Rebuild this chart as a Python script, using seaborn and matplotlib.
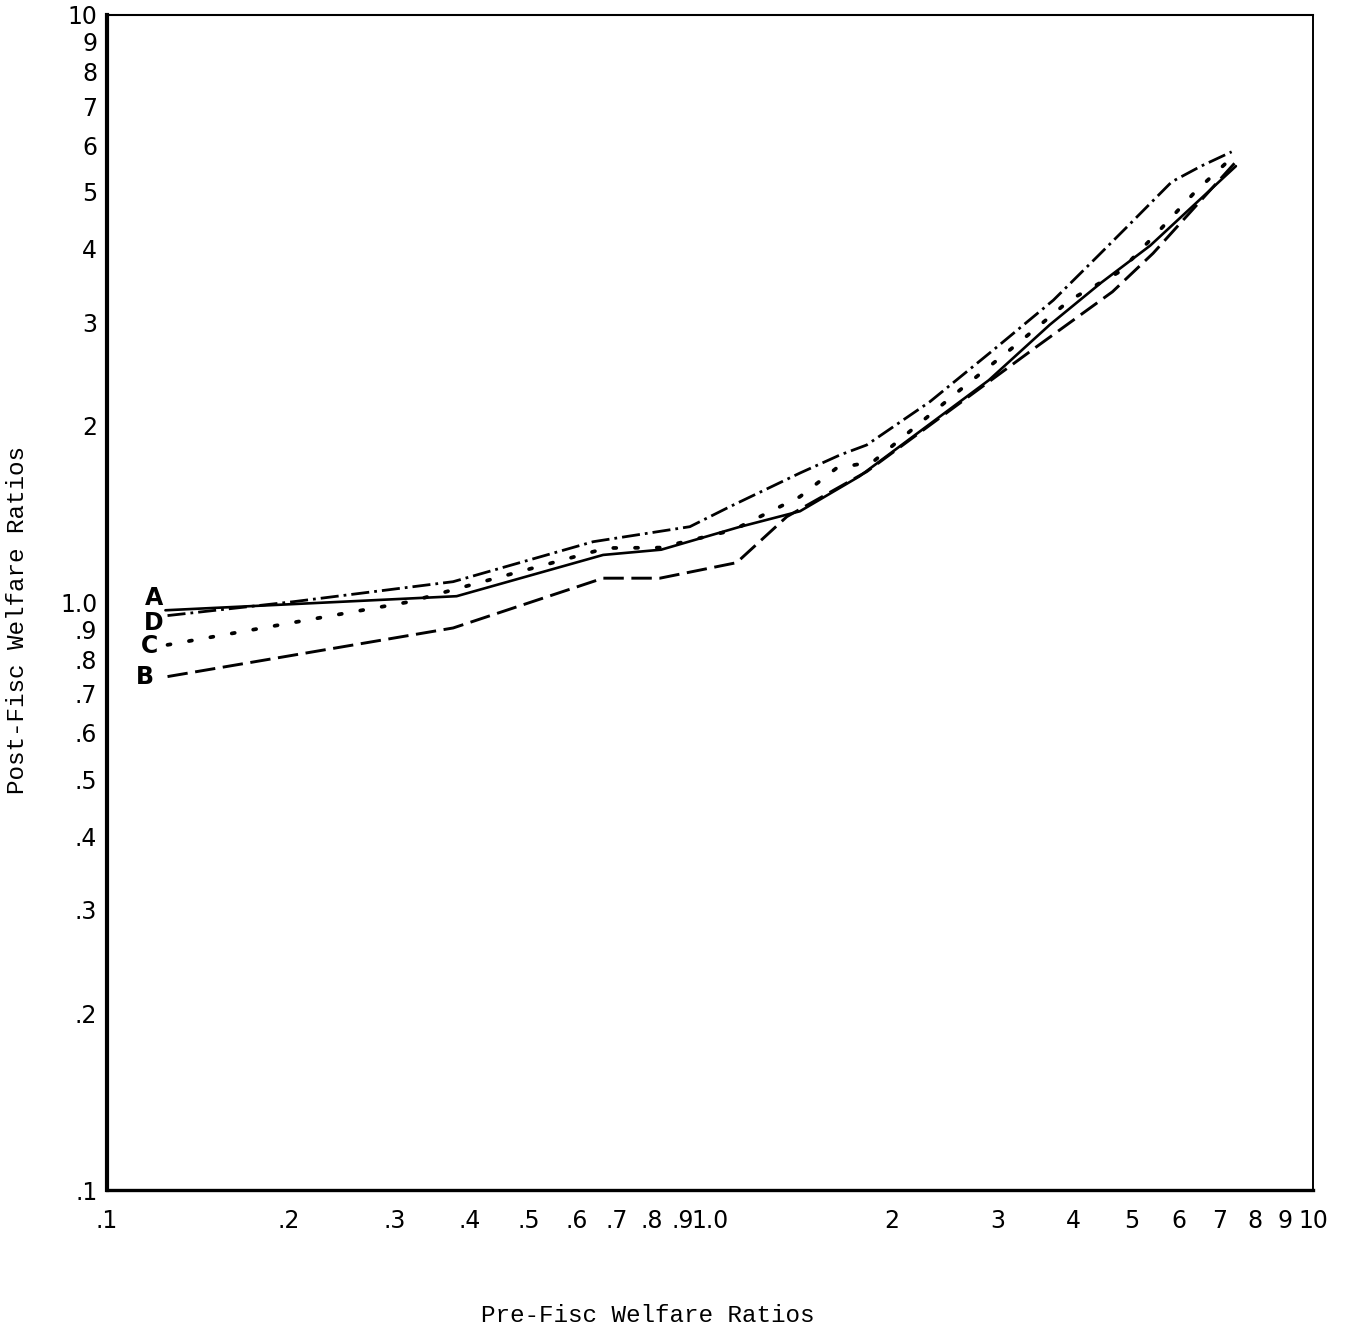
import matplotlib
matplotlib.use("Agg")
import matplotlib.pyplot as plt
import seaborn as sns
import pandas as pd
from matplotlib.ticker import FixedLocator, FixedFormatter, NullLocator

# ---- data ----
a_x = [0.125, 0.38, 0.665, 0.83, 1.12, 1.41, 1.77, 2.9, 3.66, 4.45, 5.37, 7.45]
a_y = [0.97, 1.025, 1.205, 1.23, 1.345, 1.43, 1.64, 2.39, 2.97, 3.5, 4.05, 5.53]

b_x = [0.126, 0.375, 0.665, 0.826, 1.107, 1.341, 1.819, 2.598, 3.48, 4.65, 5.43, 7.42]
b_y = [0.748, 0.905, 1.10, 1.10, 1.169, 1.40, 1.67, 2.186, 2.725, 3.38, 3.93, 5.6]

c_x = [0.126, 0.318, 0.385, 0.674, 0.826, 1.092, 1.41, 1.622, 1.864, 2.598, 3.226, 3.95, 4.786, 5.576, 6.375, 7.42]
c_y = [0.847, 1.003, 1.059, 1.238, 1.24, 1.328, 1.514, 1.694, 1.736, 2.30, 2.75, 3.27, 3.66, 4.31, 5.0, 5.78]

d_x = [0.126, 0.2035, 0.375, 0.64, 0.926, 1.079, 1.41, 1.643, 1.819, 2.316, 2.95, 3.71, 4.40, 4.934, 5.83, 6.52, 7.33]
d_y = [0.95, 1.003, 1.085, 1.269, 1.346, 1.456, 1.661, 1.783, 1.854, 2.197, 2.69, 3.27, 3.89, 4.375, 5.20, 5.53, 5.85]

series_names = ["A", "B", "C", "D"]
label_pos = {"A": (0.1195, 1.018), "D": (0.1195, 0.923), "C": (0.1175, 0.843), "B": (0.1155, 0.747)}

tick_values = [0.1, 0.2, 0.3, 0.4, 0.5, 0.6, 0.7, 0.8, 0.9, 1.0, 2, 3, 4, 5, 6, 7, 8, 9, 10]
x_tick_labels = [".1", ".2", ".3", ".4", ".5", ".6", ".7", ".8", ".9", "1.0",
                 "2", "3", "4", "5", "6", "7", "8", "9", "10"]
y_tick_labels = [".1", ".2", ".3", ".4", ".5", ".6", ".7", ".8", ".9", "1.0",
                 "2", "3", "4", "5", "6", "7", "8", "9", "10"]

x_label = "Pre-Fisc Welfare Ratios"
y_label = "Post-Fisc Welfare Ratios"

# ---- build a long table ----
frames = []
for name, xs, ys in [("A", a_x, a_y), ("B", b_x, b_y), ("C", c_x, c_y), ("D", d_x, d_y)]:
    frames.append(pd.DataFrame({"pre": xs, "post": ys, "series": name}))
df = pd.concat(frames, ignore_index=True)

sns.set_style("white")
plt.rcParams["font.family"] = ["DejaVu Sans"]

fig = plt.figure(figsize=(13.47, 13.30), dpi=100)
ax = fig.add_axes([107 / 1347, 140 / 1330, (1313 - 107) / 1347, (1190 - 15) / 1330])

styles = {
    "A": dict(linestyle="-", linewidth=1.9),
    "B": dict(linestyle=(0, (7, 2.6)), linewidth=2.1),
    "C": dict(linestyle=(0, (0.8, 5.0)), linewidth=2.7, dash_capstyle="round"),
    "D": dict(linestyle=(0, (6.5, 1.8, 1.0, 1.8)), linewidth=2.0),
}

for name in series_names:
    sub = df[df["series"] == name]
    sns.lineplot(data=sub, x="pre", y="post", ax=ax, color="black",
                 sort=False, estimator=None, legend=False)
    line = ax.lines[-1]
    st = styles[name]
    line.set_linestyle(st["linestyle"])
    line.set_linewidth(st["linewidth"])
    if "dash_capstyle" in st:
        line.set_dash_capstyle(st["dash_capstyle"])

ax.set_xscale("log")
ax.set_yscale("log")
ax.set_xlim(0.1, 10)
ax.set_ylim(0.1, 10)

ax.xaxis.set_major_locator(FixedLocator(tick_values))
ax.xaxis.set_major_formatter(FixedFormatter(x_tick_labels))
ax.yaxis.set_major_locator(FixedLocator(tick_values))
ax.yaxis.set_major_formatter(FixedFormatter(y_tick_labels))
ax.xaxis.set_minor_locator(NullLocator())
ax.yaxis.set_minor_locator(NullLocator())

ax.tick_params(axis="both", which="major", direction="in", length=5, width=1.5,
               color="black", labelsize=17, labelcolor="black")
ax.tick_params(axis="x", pad=14)
ax.tick_params(axis="y", pad=7)

for side, lw in [("left", 3.0), ("bottom", 2.4), ("top", 1.5), ("right", 1.4)]:
    ax.spines[side].set_visible(True)
    ax.spines[side].set_color("black")
    ax.spines[side].set_linewidth(lw)

ax.set_xlabel("")
ax.set_ylabel("")

for name in series_names:
    lx, ly = label_pos[name]
    ax.text(lx, ly, name, fontsize=17, fontweight="bold", ha="center", va="center",
            color="black")

fig.text(648 / 1347, 1 - 1316 / 1330, x_label, fontsize=17.5, family="Liberation Mono",
         ha="center", va="center", color="black")
fig.text(18 / 1347, 1 - 620 / 1330, y_label, fontsize=17.5, family="Liberation Mono",
         ha="center", va="center", rotation=90, color="black")

fig.savefig("out.png", dpi=100, facecolor="white")
